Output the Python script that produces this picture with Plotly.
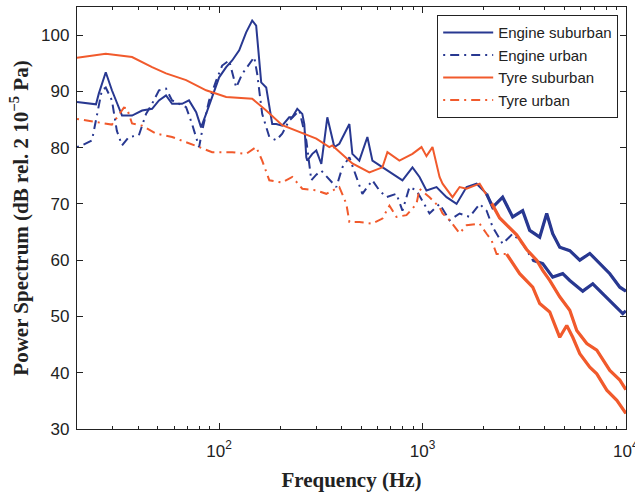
import plotly.graph_objects as go

# ---------------- data ----------------
eng_sub_f = [20, 24.8, 25.6, 27.7, 29.7, 33.3, 37.3, 41.8, 46.8, 50.6, 54.8, 58.7, 65.7, 71.1,
             77.1, 81.5, 86.3, 92.4, 100, 108.3, 115.9, 125.5, 135.8, 145.4, 152.1, 161, 170.4,
             182.4, 190.9, 204.3, 221, 228.9, 242.2, 256.4, 262.3, 268.3, 271.4, 287.2, 300.5,
             318.1, 340.4, 368.6, 390, 437, 452, 489, 535.8, 567.2, 635.3, 711.5, 797.1, 892.8,
             967, 1046, 1172, 1313, 1471, 1647, 1845, 2067, 2213, 2478, 2776, 3109, 3367, 3771,
             4082, 4369, 4731, 5300, 5936, 6649, 7447, 8341, 9343, 10000]
eng_sub_db = [88.1, 87.7, 89.6, 93.4, 90.2, 85.7, 85.7, 86.6, 86.9, 88.4, 89.3, 87.8, 87.8, 88.4,
              86.3, 83.6, 86.0, 89.0, 92.5, 94.3, 95.5, 97.3, 100.5, 102.6, 101.7, 91.6, 90.7,
              84.2, 84.2, 83.9, 85.4, 85.4, 86.9, 86.0, 84.2, 78.3, 77.7, 78.9, 79.5,
              77.1, 85.4, 80.1, 80.7, 84.2, 78.9, 77.7, 81.9, 77.7, 76.5, 75.4, 74.2, 76.5,
              74.8, 72.4, 73.0, 71.2, 70.0, 73.0, 73.6, 71.8, 69.4, 71.2, 67.7, 68.8, 65.3, 64.1,
              68.3, 64.7, 62.3, 61.7, 60.0, 61.2, 59.4, 57.6, 55.2, 54.5]

eng_urb_f = [20, 21.1, 23.7, 25.1, 26.5, 27.7, 29.7, 31.4, 33.3, 36.0, 40.3, 43.7, 46.8, 50.6,
             54.8, 58.7, 68.8, 73.6, 79.7, 82.5, 89.3, 96.7, 103.5, 112, 121.3, 129.8, 140.6,
             148.8, 153.9, 162.8, 176.5, 190.9, 204.3, 221, 248, 268.3, 284, 300.5, 318.1, 340.4,
             377.1, 403.6, 437, 473, 506.3, 567.2, 614, 664.7, 744.5, 797.1, 863, 934.2, 1000,
             1083, 1213, 1359, 1522, 1705, 1910, 2067, 2213, 2478, 2776, 3109, 3484, 3901, 4369,
             4894, 5300, 6140, 6878, 7703, 8630, 9660, 10000]
eng_urb_db = [80.1, 80.4, 81.3, 86.0, 90.2, 90.7, 88.4, 83.0, 80.4, 81.9, 82.2, 86.0, 87.8, 90.2,
              90.5, 88.4, 87.2, 84.2, 80.1, 83.0, 88.4, 91.9, 94.6, 95.5, 90.7, 93.1, 94.9,
              96.1, 93.1, 86.0, 81.9, 81.3, 82.5, 84.8, 86.6, 81.3, 74.2, 75.2, 75.9, 74.8,
              73.0, 76.5, 78.3, 74.8, 71.8, 74.2, 72.4, 71.2, 71.8, 68.8, 73.0, 72.4, 70.6,
              68.3, 70.0, 67.1, 68.3, 67.7, 70.0, 68.8, 65.9, 62.9, 64.7, 62.9, 60.0, 59.4, 57.0,
              57.6, 56.4, 54.5, 55.8, 54.0, 52.3, 50.5, 51.0]

tyre_sub_f = [20, 27.7, 37.3, 46.8, 54.8, 68.8, 86.3, 108.3, 145.4, 170.4, 204.3, 240, 287.2,
              300.5, 348, 360.3, 452, 548, 635.3, 672.3, 770, 892.8, 988.8, 1046, 1120, 1213,
              1255, 1405, 1522, 1647, 1910, 2188, 2396, 2905, 3253, 3644, 3901, 4224, 4731,
              5300, 5736, 6426, 7197, 8341, 9343, 10000]
tyre_sub_db = [96.0, 96.7, 96.1, 94.3, 93.2, 92.0, 90.2, 89.0, 88.7, 86.6, 84.0, 83.0, 81.9,
               81.6, 80.1, 80.4, 77.2, 75.6, 76.5, 79.2, 77.7, 78.9, 80.1, 78.5, 80.1, 74.8,
               73.6, 71.2, 73.0, 72.7, 73.6, 70.1, 67.5, 64.5, 61.9, 60.0, 58.2, 56.4, 53.5,
               51.1, 47.5, 45.2, 44.0, 40.4, 38.7, 37.0]

tyre_urb_f = [20, 25.6, 29.7, 34.0, 35.2, 37.3, 41.8, 48.9, 58.7, 79.7, 92.4, 115.9, 135.8,
              152.1, 162.8, 176.5, 204.3, 228.9, 248, 256.4, 300.5, 336.6, 390, 422.3, 437, 489,
              567.2, 635.3, 688, 744.5, 834.1, 934.2, 967, 1083, 1213, 1255, 1359, 1522, 1647,
              1910, 2067, 2188, 2314, 2593, 3006, 3484, 3771, 4224, 4731, 5122, 5482, 5936,
              6649, 7197, 8061, 9030, 10000]
tyre_urb_db = [85.1, 84.5, 84.1, 87.1, 87.0, 84.3, 83.9, 82.5, 81.9, 80.1, 79.2, 79.2, 78.9,
               80.1, 77.7, 74.2, 73.8, 74.8, 73.3, 72.7, 72.4, 71.8, 73.0, 70.0, 66.8, 66.8,
               66.5, 67.4, 69.7, 67.7, 68.0, 70.0, 72.7, 71.2, 69.4, 68.3, 67.1, 64.8, 66.2,
               66.5, 64.7, 63.5, 61.1, 61.1, 57.6, 55.2, 52.3, 50.8, 46.3, 48.4, 46.3, 43.4,
               41.0, 39.8, 36.9, 35.1, 32.8]

series_names = ["Engine suburban", "Engine urban", "Tyre suburban", "Tyre urban"]
x_tick_vals = [100, 1000, 10000]
x_tick_text = ["10<sup>2</sup>", "10<sup>3</sup>", "10<sup>4</sup>"]
y_tick_vals = [30, 40, 50, 60, 70, 80, 90, 100]

BLUE = "#283891"
ORANGE = "#f15a2c"
DASHDOT = "2px,5px,9px,5px"

# frequency above which the measured spectra become a dense, thick noisy band
band_start = {"Engine suburban": 2000, "Engine urban": 3300,
              "Tyre suburban": 2000, "Tyre urban": 2500}

series = [
    (series_names[0], eng_sub_f, eng_sub_db, BLUE, "solid"),
    (series_names[1], eng_urb_f, eng_urb_db, BLUE, DASHDOT),
    (series_names[2], tyre_sub_f, tyre_sub_db, ORANGE, "solid"),
    (series_names[3], tyre_urb_f, tyre_urb_db, ORANGE, DASHDOT),
]

fig = go.Figure()
for name, f, db, col, dash in series:
    fig.add_trace(go.Scatter(x=f, y=db, mode="lines", name=name,
                             line=dict(color=col, width=2, dash=dash)))
for name, f, db, col, dash in series:
    fh = [x for x in f if x >= band_start[name]]
    dh = [y for x, y in zip(f, db) if x >= band_start[name]]
    fig.add_trace(go.Scatter(x=fh, y=dh, mode="lines", showlegend=False, hoverinfo="skip",
                             line=dict(color=col, width=3.2)))

minor_vals = [m * d for d in (10, 100, 1000) for m in range(2, 10)]

axis_common = dict(showline=True, linecolor="#222222", linewidth=1.3, mirror="ticks",
                   ticks="inside", tickcolor="#222222", showgrid=False, zeroline=False,
                   tickfont=dict(family="Liberation Sans, Arial", size=17, color="#222222"))

fig.update_xaxes(type="log", range=[1.30103, 4.0008], tickvals=x_tick_vals, ticktext=x_tick_text,
                 ticklen=6, tickwidth=1, ticklabeloverflow="allow",
                 minor=dict(tickvals=minor_vals, ticks="inside", ticklen=3, tickcolor="#222222",
                            showgrid=False),
                 ticklabelstandoff=6,
                 title=dict(text="<b>Frequency (Hz)</b>", standoff=12,
                            font=dict(family="Liberation Serif, Times New Roman", size=21,
                                      color="#222222")),
                 **axis_common)
fig.update_yaxes(range=[30, 105], tickvals=y_tick_vals, ticklen=6, tickwidth=1,
                 ticklabelstandoff=3,
                 title=dict(text="<b>Power Spectrum (dB rel. 2 10<sup>−5</sup> Pa)</b>", standoff=6,
                            font=dict(family="Liberation Serif, Times New Roman", size=21,
                                      color="#222222")),
                 **axis_common)

fig.update_layout(
    width=635, height=496,
    margin=dict(l=77, r=9, t=7, b=67, autoexpand=False),
    plot_bgcolor="white", paper_bgcolor="white",
    showlegend=True,
    legend=dict(x=0.9854, y=0.981, xanchor="right", yanchor="top",
                bgcolor="white", bordercolor="#222222", borderwidth=1.2,
                font=dict(family="Liberation Sans, Arial", size=15, color="#222222"),
                itemwidth=50, tracegroupgap=0),
)

fig.write_html("out.html")
